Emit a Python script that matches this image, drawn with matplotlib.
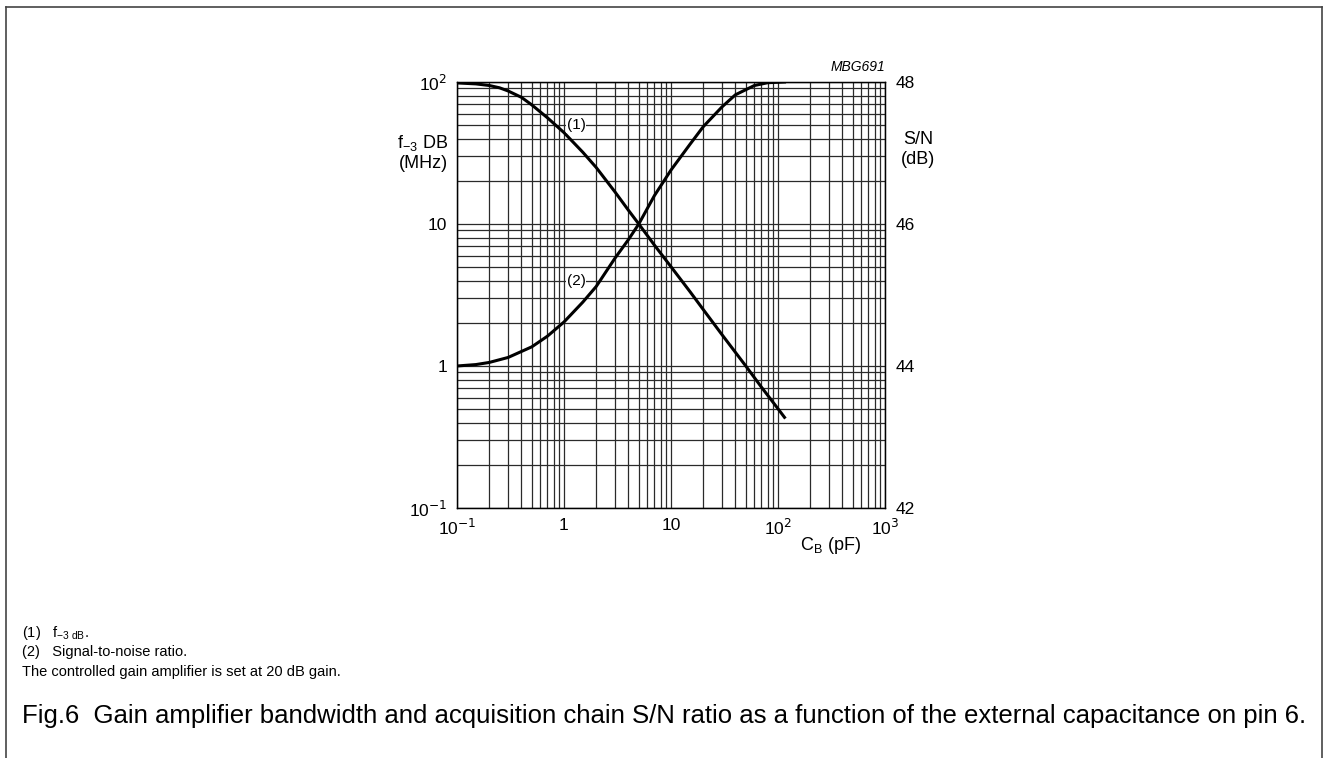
import numpy as np
import matplotlib.pyplot as plt
from matplotlib.lines import Line2D
from matplotlib.ticker import LogLocator, NullFormatter, FixedLocator

plt.rcParams['font.family'] = ['Liberation Sans', 'DejaVu Sans']

# curve (1): -3 dB bandwidth (MHz) vs C_B (pF)
cb_bw = [0.1, 0.15, 0.2, 0.25, 0.3, 0.4, 0.5, 0.7, 1, 1.5, 2, 3, 4, 5, 7, 10, 15, 20, 30, 50, 70, 100, 115]
f3db = [98.5, 97, 94.5, 91, 86.5, 78, 69, 56, 44, 32, 25, 16.8, 12.5, 10, 7.1, 5.0, 3.35, 2.5, 1.66, 1.0, 0.71, 0.5, 0.435]

# curve (2): S/N (dB) vs C_B (pF)
cb_sn = [0.1, 0.15, 0.2, 0.3, 0.5, 0.7, 1, 1.5, 2, 3, 4, 5, 7, 10, 15, 20, 30, 40, 60, 80, 115]
sn_db = [44.0, 44.02, 44.05, 44.12, 44.27, 44.42, 44.62, 44.9, 45.12, 45.52, 45.78, 46.0,
         46.4, 46.76, 47.12, 47.37, 47.65, 47.82, 47.95, 47.99, 48.0]

x_ticks = [0.1, 1, 10, 100, 1000]
x_labels = ['10$^{-1}$', '1', '10', '10$^2$', '10$^3$']
y_ticks = [0.1, 1, 10, 100]
y_labels = ['10$^{-1}$', '1', '10', '10$^2$']
sn_ticks = [42, 44, 46, 48]

fig = plt.figure(figsize=(13.27, 7.58), dpi=100)
ax = fig.add_axes([457/1327, 1-508/758, 428/1327, 426/758])

ax.set_xscale('log')
ax.set_yscale('log')
ax.set_xlim(0.1, 1000)
ax.set_ylim(0.1, 100)
ax.xaxis.set_major_locator(FixedLocator(x_ticks))
ax.yaxis.set_major_locator(FixedLocator(y_ticks))
ax.xaxis.set_minor_locator(LogLocator(base=10, subs=np.arange(2, 10), numticks=20))
ax.yaxis.set_minor_locator(LogLocator(base=10, subs=np.arange(2, 10), numticks=20))
ax.xaxis.set_minor_formatter(NullFormatter())
ax.yaxis.set_minor_formatter(NullFormatter())
ax.set_xticklabels(x_labels)
ax.set_yticklabels(y_labels)
ax.grid(True, which='both', color='#2a2a2a', lw=0.9)
ax.tick_params(which='both', length=0, labelsize=12.5, pad=7)
for s in ax.spines.values():
    s.set_linewidth(1.0)

ax.plot(cb_bw, f3db, color='black', lw=2.2, solid_joinstyle='round', zorder=5)

ax2 = ax.twinx()
ax2.set_ylim(42, 48)
ax2.set_yticks(sn_ticks)
ax2.tick_params(length=0, labelsize=12.5, pad=8)
ax2.plot(cb_sn, sn_db, color='black', lw=2.2, solid_joinstyle='round', zorder=5)

# curve labels on grid lines
ax.text(1.3, 50, '(1)', fontsize=11, ha='center', va='center', zorder=6,
        bbox=dict(facecolor='white', edgecolor='none', pad=0.5))
ax.text(1.3, 4, '(2)', fontsize=11, ha='center', va='center', zorder=6,
        bbox=dict(facecolor='white', edgecolor='none', pad=0.5))

# axis titles
fig.text(423/1327, 1-143/758, '$\\mathregular{f_{-3}}$ DB', fontsize=13, ha='center', va='center')
fig.text(423/1327, 1-164/758, '(MHz)', fontsize=13, ha='center', va='center')
fig.text(918/1327, 1-140/758, 'S/N', fontsize=13, ha='center', va='center')
fig.text(918/1327, 1-159/758, '(dB)', fontsize=13, ha='center', va='center')
fig.text(830/1327, 1-546/758, '$\\mathregular{C_B}$ (pF)', fontsize=13, ha='center', va='center')
fig.text(885/1327, 1-67/758, 'MBG691', fontsize=10, style='italic', ha='right', va='center')

# notes and caption
fig.text(22/1327, 1-633/758, '(1)   $\\mathregular{f_{-3\\ dB}}$.', fontsize=10.5, va='center')
fig.text(22/1327, 1-652/758, '(2)   Signal-to-noise ratio.', fontsize=10.5, va='center')
fig.text(22/1327, 1-672/758, 'The controlled gain amplifier is set at 20 dB gain.', fontsize=10.5, va='center')
fig.text(22/1327, 1-716/758,
         'Fig.6  Gain amplifier bandwidth and acquisition chain S/N ratio as a function of the external capacitance on pin 6.',
         fontsize=18.5, va='center')

# page frame
fx0, fx1, fy = 5.5/1327, 1321.5/1327, 1-6.5/758
fig.add_artist(Line2D([fx0, fx0], [0, fy], color='#444444', lw=1.2))
fig.add_artist(Line2D([fx0, fx1], [fy, fy], color='#444444', lw=1.2))
fig.add_artist(Line2D([fx1, fx1], [0, fy], color='#444444', lw=1.2))

fig.savefig('out.png', dpi=100)
